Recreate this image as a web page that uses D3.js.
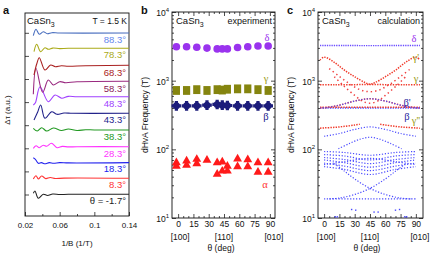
<!DOCTYPE html>
<html><head><meta charset="utf-8">
<script src="https://cdn.jsdelivr.net/npm/d3@7"></script>
<style>body{margin:0;background:#fff}text{font-family:"Liberation Sans",Arial,sans-serif;fill:#111}</style>
</head><body><svg id="chart" width="436" height="255"></svg>
<script>
// ================= DATA =================
// ---- panel a: dHvA oscillations (1/B in 1/T, amplitude in a.u.)
const curveLabels  = ["θ = -1.7°","8.3°","18.3°","28.3°","38.3°","43.3°","48.3°","58.3°","68.3°","78.3°","88.3°"];
const curveOffsets = [21.7, 37.7, 53.7, 69.3, 86, 102.7, 119.3, 134.3, 150, 167.7, 183];
const oscM17 = [[0.0296,1],[0.0315,3.3],[0.0354,-4],[0.0411,0],[0.046,-1.2],[0.052,0.3],[0.06,-0.2],[0.07,0],[0.14,0]];
const osc8   = [[0.0296,-0.7],[0.0327,2.6],[0.0354,-0.7],[0.0392,2.3],[0.044,-0.3],[0.049,0.8],[0.055,-0.2],[0.065,0.2],[0.14,0]];
const osc18  = [[0.0296,4.6],[0.032,3],[0.0354,-1],[0.039,-0.3],[0.043,-1.5],[0.048,-0.3],[0.053,-1],[0.06,-0.3],[0.07,-0.6],[0.14,-0.3]];
const osc28  = [[0.0296,-1.7],[0.0327,1],[0.0365,-1],[0.041,1.5],[0.045,0.5],[0.0505,3.4],[0.057,-1],[0.063,0.3],[0.07,-0.2],[0.08,0],[0.14,0]];
const osc38  = [[0.0296,1.7],[0.0342,-1],[0.0392,2.3],[0.045,-1],[0.0527,2],[0.062,-0.5],[0.07,1],[0.08,-0.5],[0.09,0.3],[0.1,0],[0.14,0]];
const osc43  = [[0.0304,-6.7],[0.0345,1],[0.0381,8.3],[0.043,-5],[0.0508,1.6],[0.057,-1],[0.065,0.3],[0.075,0],[0.14,0]];
const osc48  = [[0.0296,-8.3],[0.032,-6],[0.0373,10],[0.0469,-5],[0.0546,1.7],[0.0623,-1.5],[0.07,0.3],[0.08,0],[0.14,0]];
const osc58  = [[0.0296,-12.6],[0.0327,13.4],[0.0404,-10.6],[0.0469,1.7],[0.0527,-3.3],[0.06,0],[0.067,-1],[0.08,0],[0.14,0.5]];
const osc68  = [[0.0304,-9],[0.0335,2],[0.0365,8.3],[0.043,-4],[0.0496,1],[0.055,-0.7],[0.062,0.3],[0.07,-0.3],[0.09,0.3],[0.14,0.7]];
const osc78  = [[0.0304,-3.4],[0.0335,4],[0.0381,-3.4],[0.043,0.6],[0.047,-1],[0.052,0.2],[0.06,-0.3],[0.07,0],[0.14,0]];
const osc88  = [[0.0296,-2.7],[0.0327,3.7],[0.0365,-1.3],[0.0411,1.3],[0.0457,-0.7],[0.051,0.3],[0.06,0],[0.14,0]];
const oscData = [oscM17, osc8, osc18, osc28, osc38, osc43, osc48, osc58, osc68, osc78, osc88];
const curveColors = ["#222222","#ff3333","#2222ee","#ff33ff","#229922","#22228a","#a040ff","#9a2a80","#aa2222","#aaaa18","#4a6fbf"];
const labelColors = ["#222222","#ff3333","#2222ee","#ff33ff","#229922","#22228a","#a040ff","#8b1a55","#aa2222","#aaaa18","#6688ee"];
const xTicksA = [0.02, 0.06, 0.1, 0.14];
const xMinorA = [0.04, 0.08, 0.12];

// ---- panel b: experiment
const angles = [-1.7, 8.3, 18.3, 28.3, 38.3, 43.3, 48.3, 58.3, 68.3, 78.3, 88.3];
const deltaF = [3120, 3120, 3070, 2980, 2900, 2900, 2900, 3040, 3120, 3190, 3190];
const gammaF = [720, 720, 740, 720, 740, 730, 750, 760, 760, 740, 720];
const betaF  = [430, 430, 430, 440, 450, 440, 435, 430, 430, 430, 430];
const alphaHi = [66, 70, 74, 72, 66, 68, 59, 75, 73, 66, 66];
const alphaLo = [59, 61, 64, null, 45, 50, 50, 58, 58, 48, 48];
const thetaTicks = [0, 15, 30, 45, 60, 75, 90];
const dirLabels = [[0,"[100]"],[45,"[110]"],[90,"[010]"]];
const decades = [10, 100, 1000, 10000];
const decadeExp = ["1","2","3","4"];

// ---- panel c: calculation (theta, frequency)
const cDelta   = [[-4,3250],[20,3250],[45,3240],[70,3250],[94,3250]];
const cArcA    = [[0,155],[15,170],[30,195],[45,212],[60,195],[75,170],[90,155]];
const cArcB    = [[14,102],[25,122],[35,140],[45,150],[55,140],[65,122],[76,102]];
const cBand1   = [[0,93],[20,90],[45,82],[70,90],[90,93]];
const cBand2   = [[0,84],[20,80],[45,70],[70,80],[90,84]];
const cBand3   = [[0,76],[20,71],[45,62],[70,71],[90,76]];
const cBand4   = [[0,70],[20,64],[45,55],[70,64],[90,70]];
const cBand5   = [[0,63],[20,57],[45,49],[70,57],[90,63]];
const cBand6   = [[0,56],[20,51],[45,43],[70,51],[90,56]];
const cBandInv = [[0,60],[20,66],[45,74],[70,66],[90,60]];
const cX1      = [[10,62],[20,48],[30,37],[45,27],[60,22],[75,19.5],[85,19]];
const cX2      = [[5,19],[15,19.5],[30,22],[45,27],[60,37],[70,48],[80,62]];
const cFlat19  = [[0,19],[45,19],[90,19]];
const cLowDots = [[27,13.3],[31,13],[49,12.2],[53,12.2],[70,13],[74,13.3],[11,10.4],[13,10.4],[79,10.4],[81,10.4]];
const cGammaP  = [[-4,2000],[0,2200],[10,1850],[20,1420],[30,1140],[40,940],[45,890],[50,940],[60,1140],[70,1420],[80,1850],[90,2200],[94,2000]];
const cGamma   = [[-4,870],[10,870],[30,875],[45,880],[60,875],[80,870],[94,870]];
const cR1      = [[5,1500],[15,1150],[25,900],[35,740],[45,690],[55,740],[65,900],[75,1150],[85,1500]];
const cR2      = [[10,1140],[20,820],[30,610],[38,500],[45,470],[52,500],[60,610],[70,820],[80,1140]];
const cBetaP   = [[-4,400],[0,402],[15,440],[30,505],[45,545],[60,505],[75,440],[90,402],[94,400]];
const cBetaRed = [[-4,410],[45,410],[94,410]];
const cBetaBlu = [[-4,400],[45,400],[94,400]];
const cGammaPP1 = [[-4,203],[0,205],[10,209],[20,216],[30,226],[35,232]];
const cGammaPP2 = [[55,232],[60,226],[70,216],[80,209],[90,205],[94,203]];
const blueCurves = [cArcA, cArcB, cBand1, cBand2, cBand3, cBand4, cBand5, cBand6, cBandInv, cX1, cX2, cFlat19];
const redCurves  = [cGammaP, cGamma, cGammaPP1, cGammaPP2, cBetaRed];
const redSparse  = [cR1, cR2];

// ================= DRAW =================
const svg = d3.select("#chart");
const FS = "Liberation Sans, Arial, sans-serif";

function txt(x, y, s, o = {}) {
  return svg.append("text").attr("x", x).attr("y", y).text(s)
    .attr("font-size", o.size || 9).attr("text-anchor", o.anchor || "start")
    .style("fill", o.fill || "#111").attr("font-weight", o.weight || "normal")
    .style("font-family", o.family || null);
}
function casn(x, y) {
  const t = svg.append("text").attr("x", x).attr("y", y).attr("font-size", 9.5);
  t.append("tspan").text("CaSn");
  t.append("tspan").text("3").attr("font-size", 7).attr("dy", 2.5);
}
const GREEK = "Liberation Serif, serif";

// ---------- Panel a ----------
const xA = d3.scaleLinear([0.02, 0.14], [25, 129]);
const yA = d3.scaleLinear([0, 203], [216, 13]);
const gA = svg.append("g");
gA.append("g").attr("transform", "translate(0,216)")
  .call(d3.axisBottom(xA).tickValues(xTicksA).tickSizeInner(-4).tickSizeOuter(0).tickPadding(6)
  .tickFormat(d => d3.format("~g")(d)))
  .call(g => g.selectAll("text").attr("font-size", 8).attr("font-family", FS).style("fill", "#111"));
gA.append("g").attr("transform", "translate(0,216)")
  .call(d3.axisBottom(xA).tickValues(xMinorA).tickSizeInner(-2).tickSizeOuter(0).tickFormat(""));
gA.append("g").attr("transform", "translate(25,0)")
  .call(d3.axisLeft(yA).tickValues(d3.range(21.5, 200, 23.1)).tickSizeInner(-4).tickSizeOuter(0).tickFormat(""));
gA.selectAll(".domain").remove();
gA.selectAll("line").attr("stroke", "#222").attr("stroke-width", 0.8);
svg.append("rect").attr("x", 25).attr("y", 13).attr("width", 104).attr("height", 203)
  .attr("fill", "none").attr("stroke", "#111").attr("stroke-width", 0.9);

const lineA = d3.line().curve(d3.curveCatmullRom.alpha(0.5));
oscData.forEach((arr, i) => {
  const pts = arr.map(([b, v]) => [xA(b), yA(curveOffsets[i] + v)]);
  svg.append("path").attr("d", lineA(pts)).attr("fill", "none")
    .attr("stroke", curveColors[i]).attr("stroke-width", 1.1);
  txt(126, yA(curveOffsets[i]) + 10, curveLabels[i], {size: 9.5, anchor: "end", fill: labelColors[i]});
});
casn(27, 24);
txt(127, 24, "T = 1.5 K", {size: 8.5, anchor: "end"});
txt(77, 246, "1/B (1/T)", {size: 8, anchor: "middle"});
svg.append("text").attr("transform", "translate(10,110) rotate(-90)").attr("text-anchor", "middle")
  .attr("font-size", 8).text("Δτ (a.u.)");
txt(3, 14, "a", {size: 11, weight: "bold"});

// ---------- Panels b & c frames ----------
const yL = d3.scaleLog([10, 1e4], [218, 12]);
const minorLog = [];
[10, 100, 1000].forEach(d => { for (let k = 2; k <= 9; k++) minorLog.push(d * k); });

function logFrame(x, x0, x1, letter, title) {
  const g = svg.append("g");
  const minorX = d3.range(0, 91, 5).filter(v => v % 15 !== 0);
  g.append("g").attr("transform", "translate(0,218)")
    .call(d3.axisBottom(x).tickValues(thetaTicks).tickSizeInner(-4).tickSizeOuter(0).tickPadding(3))
    .call(s => s.selectAll("text").attr("font-size", 8.5).attr("font-family", FS).style("fill", "#111"));
  g.append("g").attr("transform", "translate(0,218)")
    .call(d3.axisBottom(x).tickValues(minorX).tickSizeInner(-2).tickSizeOuter(0).tickFormat(""));
  g.append("g").attr("transform", "translate(0,12)")
    .call(d3.axisTop(x).tickValues(thetaTicks).tickSizeInner(-4).tickSizeOuter(0).tickFormat(""));
  g.append("g").attr("transform", "translate(0,12)")
    .call(d3.axisTop(x).tickValues(minorX).tickSizeInner(-2).tickSizeOuter(0).tickFormat(""));
  [[x0, d3.axisLeft], [x1, d3.axisRight]].forEach(([px, ax]) => {
    g.append("g").attr("transform", `translate(${px},0)`)
      .call(ax(yL).tickValues(decades).tickSizeInner(-4).tickSizeOuter(0).tickFormat(""));
    g.append("g").attr("transform", `translate(${px},0)`)
      .call(ax(yL).tickValues(minorLog).tickSizeInner(-2).tickSizeOuter(0).tickFormat(""));
  });
  g.selectAll(".domain").remove();
  g.selectAll("line").attr("stroke", "#222").attr("stroke-width", 0.8);
  svg.append("rect").attr("x", x0).attr("y", 12).attr("width", x1 - x0).attr("height", 206)
    .attr("fill", "none").attr("stroke", "#111").attr("stroke-width", 0.9);
  decades.forEach((d, i) => {
    const t = svg.append("text").attr("x", x0 - 3).attr("y", yL(d) + 4).attr("font-size", 8.5)
      .attr("text-anchor", "end");
    t.append("tspan").text("10");
    t.append("tspan").text(decadeExp[i]).attr("font-size", 6).attr("dy", -4);
  });
  dirLabels.forEach(([v, s]) => txt(x(v) + (v === 90 ? 4 : v === 0 ? 2 : 0), 239.5, s, {size: 8.5, anchor: "middle"}));
  txt(x(45) - 3, 250.5, "θ (deg)", {size: 8.5, anchor: "middle"});
  svg.append("text").attr("transform", `translate(${x0 - 24},115) rotate(-90)`).attr("text-anchor", "middle")
    .attr("font-size", 8.5).text("dHvA Frequency (T)");
  txt(x0 - 31, 14, letter, {size: 11, weight: "bold"});
  casn(x0 + 4, 24);
  txt(x1 - 3, 24, title, {size: 9, anchor: "end"});
}

// ---------- Panel b ----------
const xB = d3.scaleLinear([-6, 95], [172, 275]);
logFrame(xB, 172, 275, "b", "experiment");
svg.append("g").selectAll("circle").data(angles).join("circle")
  .attr("cx", d => xB(d)).attr("cy", (d, i) => yL(deltaF[i])).attr("r", 3.8).attr("fill", "#9a33ee");
svg.append("g").selectAll("rect").data(angles).join("rect")
  .attr("x", d => xB(d) - 3.6).attr("y", (d, i) => yL(gammaF[i]) - 4.4).attr("width", 7.2).attr("height", 8.8)
  .attr("fill", "#85850f");
const gBeta = svg.append("g");
angles.forEach((a, i) => {
  gBeta.append("circle").attr("cx", xB(a)).attr("cy", yL(betaF[i])).attr("r", 3.5).attr("fill", "#1c1c7a");
  gBeta.append("path").attr("d", d3.symbol(d3.symbolCross, 52)())
    .attr("transform", `translate(${xB(a)},${yL(betaF[i])})`).attr("fill", "#1c1c7a");
});
const tri = d3.symbol(d3.symbolTriangle, 34)();
const gAl = svg.append("g");
angles.forEach((a, i) => {
  [alphaHi[i], alphaLo[i]].forEach(v => {
    if (v == null) return;
    gAl.append("path").attr("d", tri).attr("transform", `translate(${xB(a)},${yL(v) + 1})`).attr("fill", "#ff1a1a");
  });
});
txt(267, 41, "δ", {size: 10.5, anchor: "middle", fill: "#9a33ee", family: GREEK});
txt(266, 82, "γ", {size: 10.5, anchor: "middle", fill: "#999910", family: GREEK});
txt(266, 120, "β", {size: 10.5, anchor: "middle", fill: "#1c1c8a", family: GREEK});
txt(265, 188, "α", {size: 10.5, anchor: "middle", fill: "#ff3333", family: GREEK});

// ---------- Panel c ----------
const xC = d3.scaleLinear([-6, 97], [318, 423]);
logFrame(xC, 318, 423, "c", "calculation");
const lineC = d3.line().x(d => xC(d[0])).y(d => yL(d[1])).curve(d3.curveCatmullRom.alpha(0.5));
const gC = svg.append("g");
const dot = (arr, col, w, dash) => gC.append("path").attr("d", lineC(arr)).attr("fill", "none")
  .attr("stroke", col).attr("stroke-width", w).attr("stroke-dasharray", dash);
blueCurves.forEach(c => dot(c, "#4a4aff", 1.2, "1.2 1.7"));
gC.selectAll("rect.low").data(cLowDots).join("rect").attr("class", "low")
  .attr("x", d => xC(d[0]) - 0.7).attr("y", d => yL(d[1]) - 0.7).attr("width", 1.4).attr("height", 1.4).attr("fill", "#4a4aff");
dot(cDelta, "#6a4cff", 1.4, "1.3 1");
dot(cBetaBlu, "#4a4aff", 1.4, "1.3 1.2");
redCurves.forEach(c => dot(c, "#f03a2a", 1.5, "1.4 1.2"));
redSparse.forEach(c => dot(c, "#f04040", 1.5, "1.4 3"));
dot(cBetaP, "#f03a2a", 1.5, "1.4 1.4");
dot(cBetaP, "#4a4aff", 1.2, "1.2 1.6");
txt(414, 42, "δ", {size: 10.5, anchor: "middle", fill: "#9a33ee", family: GREEK});
txt(416, 61, "γ'", {size: 10.5, anchor: "middle", fill: "#999910", family: GREEK});
txt(416, 82, "γ", {size: 10.5, anchor: "middle", fill: "#999910", family: GREEK});
txt(407, 106, "β'", {size: 10.5, anchor: "middle", fill: "#2a2aa0", family: GREEK});
txt(407, 120, "β", {size: 10.5, anchor: "middle", fill: "#2a2aa0", family: GREEK});
txt(416, 124, "γ''", {size: 10.5, anchor: "middle", fill: "#999910", family: GREEK});
</script></body></html>
